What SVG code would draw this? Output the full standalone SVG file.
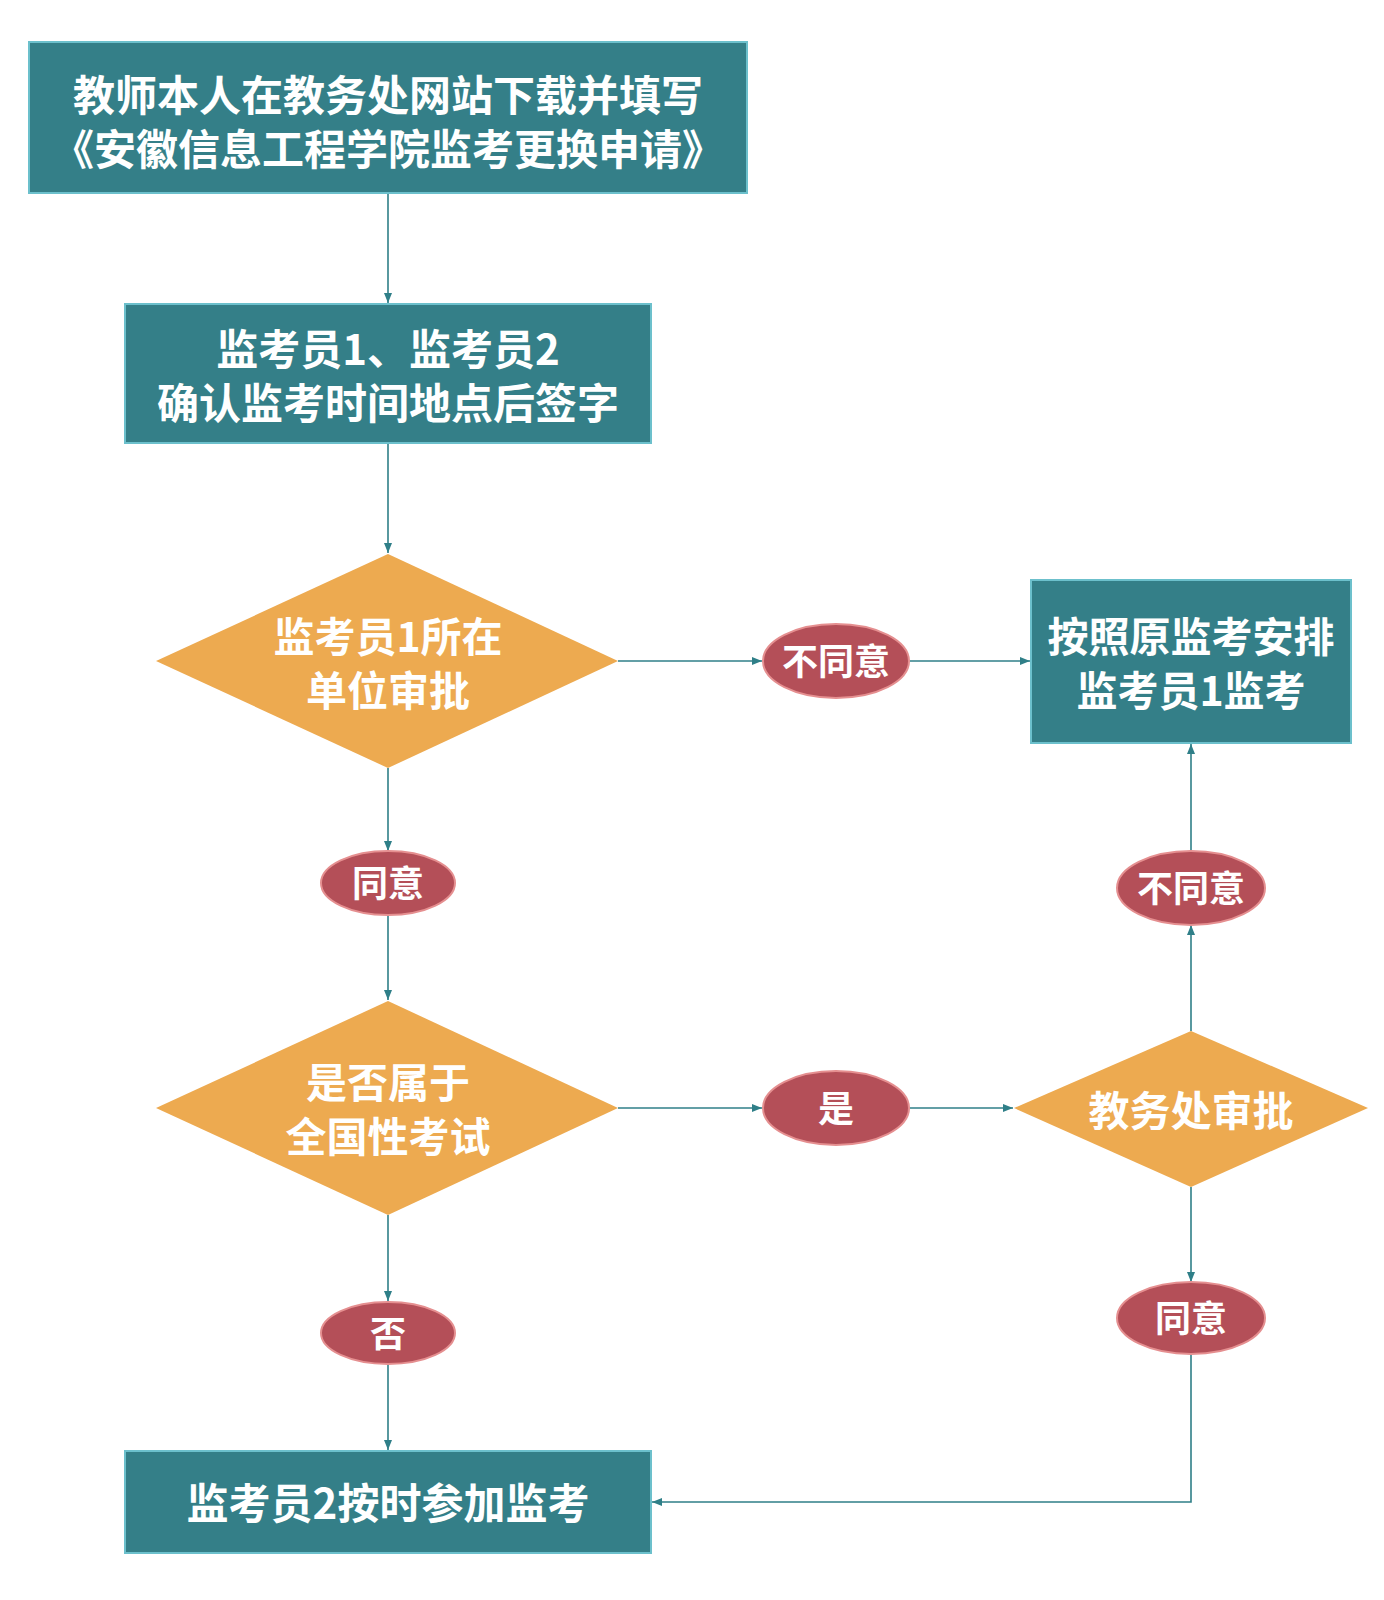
<svg xmlns="http://www.w3.org/2000/svg" width="1384" height="1600" viewBox="0 0 1384 1600">
<style>
.box{fill:#347f88;stroke:#6cc0cc;stroke-width:2}
.dia{fill:#edaa50}
.ell{fill:#b44f58;stroke:#e58f90;stroke-width:2}
.t{font-family:"Noto Sans CJK SC","Noto Sans",sans-serif;font-weight:700;fill:#ffffff;text-anchor:middle;dominant-baseline:central}
.c{fill:none;stroke:#2f7f88;stroke-width:1.6}
</style>
<defs>
<marker id="ah" viewBox="0 0 10 8" refX="10" refY="4" markerWidth="10" markerHeight="8" markerUnits="userSpaceOnUse" orient="auto">
<path d="M0,0 L10,4 L0,8 Z" fill="#2f7f88"/>
</marker>
</defs>
<rect width="1384" height="1600" fill="#ffffff"/>
<g id="connectors">
<path class="c" d="M388,193 V303" marker-end="url(#ah)"/>
<path class="c" d="M388,443 V553" marker-end="url(#ah)"/>
<path class="c" d="M618,661 H762" marker-end="url(#ah)"/>
<path class="c" d="M910,661 H1030" marker-end="url(#ah)"/>
<path class="c" d="M388,768 V851" marker-end="url(#ah)"/>
<path class="c" d="M388,915 V1000" marker-end="url(#ah)"/>
<path class="c" d="M618,1108 H762" marker-end="url(#ah)"/>
<path class="c" d="M910,1108 H1013" marker-end="url(#ah)"/>
<path class="c" d="M1191,1031 V925" marker-end="url(#ah)"/>
<path class="c" d="M1191,851 V744" marker-end="url(#ah)"/>
<path class="c" d="M1191,1187 V1282" marker-end="url(#ah)"/>
<path class="c" d="M388,1215 V1301" marker-end="url(#ah)"/>
<path class="c" d="M388,1363 V1450" marker-end="url(#ah)"/>
<path class="c" d="M1191,1354 V1502 H652" marker-end="url(#ah)"/>
</g>
<g id="n1">
<rect class="box" x="29" y="42" width="718" height="151"/>
<text class="t" x="388" y="92" font-size="42"><tspan x="388" y="92">教师本人在教务处网站下载并填写</tspan><tspan x="388" y="146">《安徽信息工程学院监考更换申请》</tspan></text>
</g>
<g id="n2">
<rect class="box" x="125" y="304" width="526" height="139"/>
<text class="t" x="388" y="346" font-size="42"><tspan x="388" y="346">监考员1、监考员2</tspan><tspan x="388" y="400">确认监考时间地点后签字</tspan></text>
</g>
<g id="n3">
<polygon class="dia" points="388,554 618,661 388,768 156,661"/>
<text class="t" x="388" y="634" font-size="41"><tspan x="388" y="634">监考员1所在</tspan><tspan x="388" y="688">单位审批</tspan></text>
</g>
<g id="n4">
<ellipse class="ell" cx="836" cy="661" rx="73" ry="37"/>
<text class="t" x="836" y="659" font-size="36">不同意</text>
</g>
<g id="n5">
<rect class="box" x="1031" y="580" width="320" height="163"/>
<text class="t" x="1191" y="634" font-size="41"><tspan x="1191" y="634">按照原监考安排</tspan><tspan x="1191" y="688">监考员1监考</tspan></text>
</g>
<g id="n6">
<ellipse class="ell" cx="388" cy="883" rx="67" ry="32"/>
<text class="t" x="388" y="881" font-size="36">同意</text>
</g>
<g id="n7">
<polygon class="dia" points="388,1001 618,1108 388,1215 156,1108"/>
<text class="t" x="388" y="1080" font-size="41"><tspan x="388" y="1080">是否属于</tspan><tspan x="388" y="1134">全国性考试</tspan></text>
</g>
<g id="n8">
<ellipse class="ell" cx="836" cy="1108" rx="73" ry="37"/>
<text class="t" x="836" y="1106" font-size="36">是</text>
</g>
<g id="n9">
<polygon class="dia" points="1191,1031 1368,1108 1191,1187 1014,1108"/>
<text class="t" x="1191" y="1108" font-size="41">教务处审批</text>
</g>
<g id="n10">
<ellipse class="ell" cx="1191" cy="888" rx="74" ry="37"/>
<text class="t" x="1191" y="886" font-size="36">不同意</text>
</g>
<g id="n11">
<ellipse class="ell" cx="1191" cy="1318" rx="74" ry="36"/>
<text class="t" x="1191" y="1316" font-size="36">同意</text>
</g>
<g id="n12">
<ellipse class="ell" cx="388" cy="1333" rx="67" ry="31"/>
<text class="t" x="388" y="1331" font-size="36">否</text>
</g>
<g id="n13">
<rect class="box" x="125" y="1451" width="526" height="102"/>
<text class="t" x="388" y="1500" font-size="42">监考员2按时参加监考</text>
</g>
</svg>
